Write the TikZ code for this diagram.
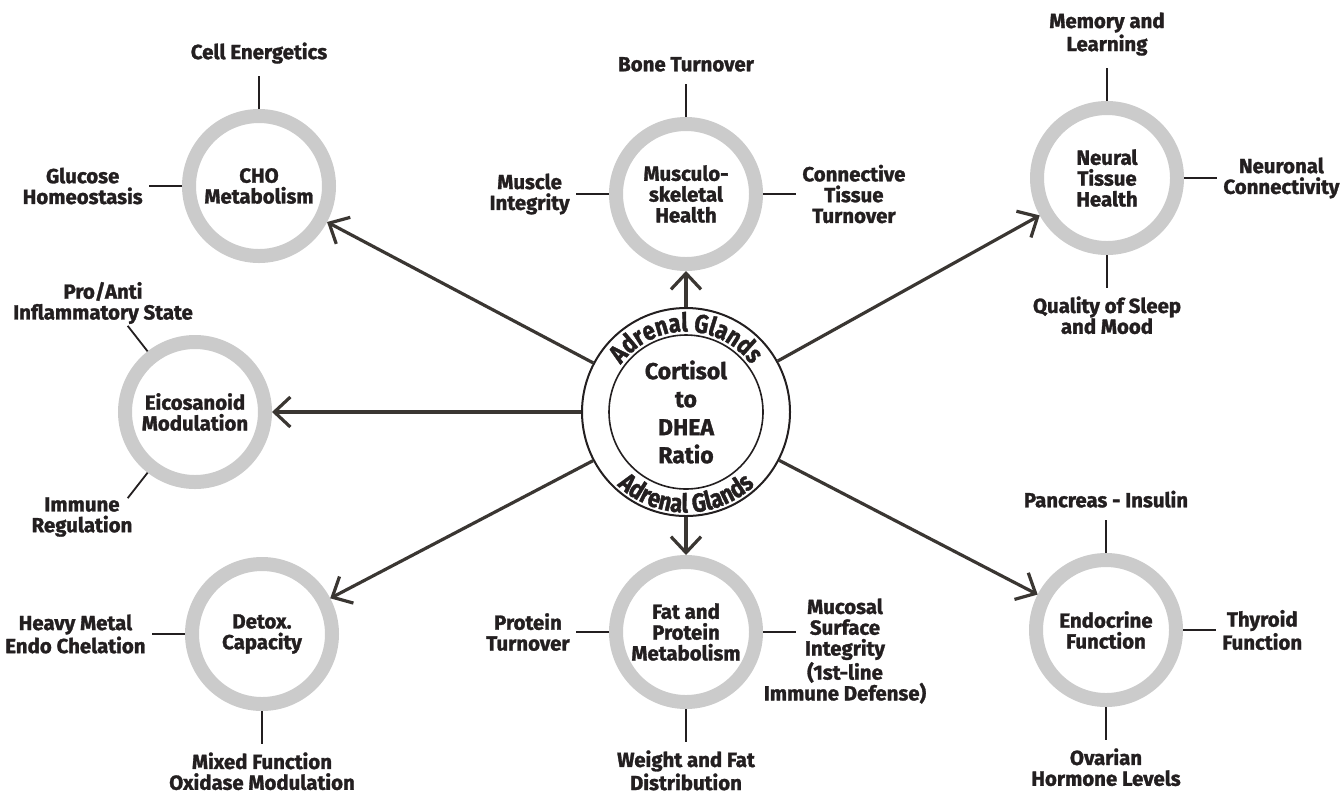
\documentclass[tikz,border=0pt]{standalone}
\usepackage{fontspec}
\setmainfont{Fira Sans}[BoldFeatures={FakeBold=1.4}]
\newfontfamily\glandfont{Fira Sans}[FakeStretch=0.84, BoldFeatures={FakeBold=1.4}]
\usetikzlibrary{arrows.meta,positioning,calc,decorations.text}

\definecolor{ringgray}{HTML}{CBCBCB}
\definecolor{inkc}{HTML}{231F20}
\definecolor{arrowc}{HTML}{3A3632}

\newcommand{\lblfont}{\fontsize{10.2}{10.4}\selectfont\bfseries}
\newcommand{\ratiofont}{\fontsize{11.5}{14}\selectfont\bfseries}
\newcommand{\glandtext}{|\glandfont\fontsize{13}{13}\selectfont\bfseries|Adrenal Glands}

\tikzset{
  ring/.style={circle, draw=ringgray, line width=7pt, minimum size=70pt, inner sep=0pt,
    align=center, font=\lblfont, text=inkc},
  lbl/.style={align=center, font=\lblfont, text=inkc, inner xsep=3pt, inner ysep=2pt},
  toplbl/.style={lbl, inner ysep=6pt},
  botlbl/.style={lbl, inner ysep=4pt},
  tick/.style={line width=0.9pt, draw=inkc},
  feed/.style={line width=1.6pt, draw=arrowc,
    -{Straight Barb[length=8pt,width=15pt,line width=1.6pt]}},
  gland/.style={decorate, decoration={text along path, text align=center,
    text color=inkc, text/.expand once=\glandtext}},
}

\begin{document}
\begin{tikzpicture}[x=0.5pt,y=0.5pt]
  \useasboundingbox (0,0) rectangle (1342,-794);

  % centre: adrenal glands round the ratio
  \node[circle, draw=inkc, line width=1pt, minimum size=104pt] (adr) at (686,-412) {};
  \node[circle, draw=inkc, line width=0.8pt, minimum size=77pt, align=center,
    font=\ratiofont, text=inkc] (ratio) at (adr) {Cortisol\\to\\DHEA\\Ratio};
  \path[gland] (adr.center) ++(165:80.5) arc[start angle=165, end angle=15, radius=80.5];
  \path[gland] (adr.center) ++(200:100.5) arc[start angle=200, end angle=340, radius=100.5];

  % satellites
  \node[ring] (cho) at (259,-186) {CHO\\Metabolism};
  \node[ring] (msk) at (686,-194) {Musculo-\\skeletal\\Health};
  \node[ring] (nth) at (1107,-178) {Neural\\Tissue\\Health};
  \node[ring] (eic) at (195,-412) {Eicosanoid\\Modulation};
  \node[ring] (dtx) at (262,-634) {Detox.\\Capacity};
  \node[ring] (fpm) at (686,-632) {Fat and\\Protein\\Metabolism};
  \node[ring] (endo) at (1106,-630) {Endocrine\\Function};

  \draw[feed] (adr) -- (cho);
  \draw[feed] (adr) -- (msk);
  \draw[feed] (adr) -- (nth);
  \draw[feed] (adr) -- (eic);
  \draw[feed] (adr) -- (dtx);
  \draw[feed] (adr) -- (fpm);
  \draw[feed] (adr) -- (endo);

  % CHO
  \node[toplbl, above=16.5pt of cho] (celleng) {Cell Energetics};
  \node[lbl, left=16.5pt of cho] (glucose) {Glucose\\Homeostasis};
  \draw[tick] (cho.north) -- (celleng.south);
  \draw[tick] (cho.west) -- (glucose.east);

  % musculoskeletal
  \node[toplbl, above=16.5pt of msk] (bone) {Bone Turnover};
  \node[lbl, left=16.5pt of msk] (muscle) {Muscle\\Integrity};
  \node[lbl, right=16.5pt of msk] (connect) {Connective\\Tissue\\Turnover};
  \draw[tick] (msk.north) -- (bone.south);
  \draw[tick] (msk.west) -- (muscle.east);
  \draw[tick] (msk.east) -- (connect.west);

  % neural
  \node[toplbl, above=16.5pt of nth] (memory) {Memory and\\Learning};
  \node[lbl, right=16.5pt of nth] (neuronal) {Neuronal\\Connectivity};
  \node[botlbl, below=16.5pt of nth] (sleep) {Quality of Sleep\\and Mood};
  \draw[tick] (nth.north) -- (memory.south);
  \draw[tick] (nth.east) -- (neuronal.west);
  \draw[tick] (nth.south) -- (sleep.north);

  % eicosanoid
  \node[lbl] (proanti) at (103,-303) {Pro/Anti\\Inflammatory State};
  \node[lbl] (immune) at (82,-517) {Immune\\Regulation};
  \coordinate (proend) at ($(eic)!1.42!(eic.128)$);
  \coordinate (immend) at ($(eic)!1.42!(eic.-128)$);
  \draw[tick] (eic.128) -- (proend);
  \draw[tick] (eic.-128) -- (immend);

  % detox
  \node[lbl, left=16.5pt of dtx] (heavy) {Heavy Metal\\Endo Chelation};
  \node[botlbl, below=16.5pt of dtx] (mixed) {Mixed Function\\Oxidase Modulation};
  \draw[tick] (dtx.west) -- (heavy.east);
  \draw[tick] (dtx.south) -- (mixed.north);

  % fat and protein
  \node[lbl, left=16.5pt of fpm] (protein) {Protein\\Turnover};
  \node[lbl] (mucosal) at (845,-651) {Mucosal\\Surface\\Integrity\\(1st-line\\Immune Defense)};
  \node[botlbl, below=16.5pt of fpm] (weight) {Weight and Fat\\Distribution};
  \coordinate (mucend) at ($(fpm.east)+(16.5pt,0)$);
  \draw[tick] (fpm.west) -- (protein.east);
  \draw[tick] (fpm.east) -- (mucend);
  \draw[tick] (fpm.south) -- (weight.north);

  % endocrine
  \node[toplbl, above=16.5pt of endo] (pancreas) {Pancreas - Insulin};
  \node[lbl, right=16.5pt of endo] (thyroid) {Thyroid\\Function};
  \node[botlbl, below=16.5pt of endo] (ovarian) {Ovarian\\Hormone Levels};
  \draw[tick] (endo.north) -- (pancreas.south);
  \draw[tick] (endo.east) -- (thyroid.west);
  \draw[tick] (endo.south) -- (ovarian.north);
\end{tikzpicture}
\end{document}
